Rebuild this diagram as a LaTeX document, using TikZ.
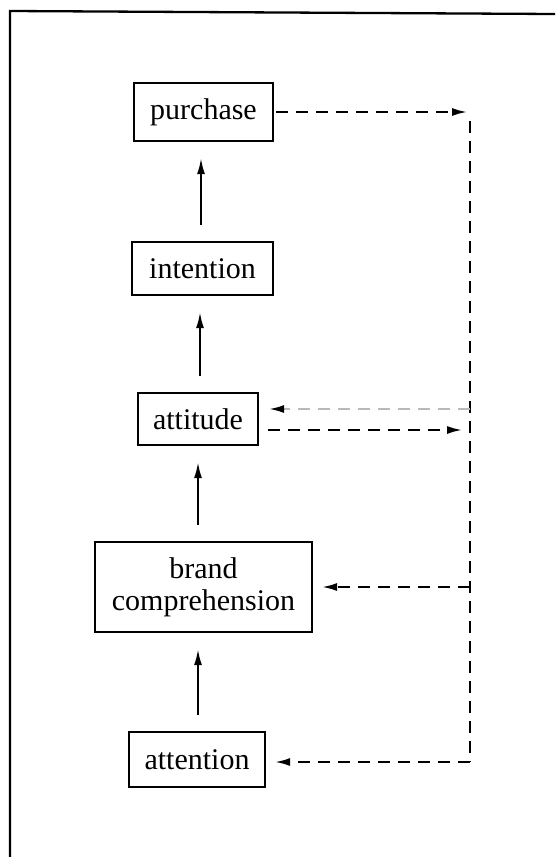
\documentclass[tikz,border=0pt]{standalone}
\usepackage{fontspec}
\setmainfont{Liberation Serif}
\usetikzlibrary{arrows.meta}

\begin{document}
\begin{tikzpicture}[x=1pt,y=-1pt,
  stage/.style={draw,line width=2.3pt,inner sep=0pt,font=\fontsize{30}{33}\selectfont,align=center},
  flow/.style={line width=2pt,-{Latex[length=16pt,width=8pt]},shorten <=16pt,shorten >=16pt},
  busline/.style={line width=2.6pt,dash pattern=on 12pt off 8pt},
  tip/.style={-{Latex[length=16pt,width=8pt]}}
]
\useasboundingbox (0,0) rectangle (555,857);

% outer frame: only the top and left edges are drawn
\draw[line width=2.3pt] (555,14) -- (10,11) -- (10,857);

% stages of the hierarchy
\node[stage,minimum width=139pt,minimum height=58pt] (purchase)  at (203.5,112)   {purchase};
\node[stage,minimum width=141pt,minimum height=53pt] (intention) at (202.5,268.5) {intention};
\node[stage,minimum width=120pt,minimum height=52pt] (attitude)  at (198,419)     {attitude};
\node[stage,minimum width=217pt,minimum height=90pt] (brand)     at (203.5,587)
  {brand\\[-1pt]comprehension};
\node[stage,minimum width=136pt,minimum height=55pt] (attention) at (197,759.5)   {attention};

% columns of the upward arrows
\coordinate (colA) at (201,0);
\coordinate (colB) at (200,0);
\coordinate (colC) at (198,0);

% upward flow between stages
\draw[flow] (intention.north -| colA) -- (purchase.south -| colA);
\draw[flow] (attitude.north -| colB)  -- (intention.south -| colB);
\draw[flow] (brand.north -| colC)     -- (attitude.south -| colC);
\draw[flow] (attention.north -| colC) -- (brand.south -| colC);

% feedback bus on the right
\coordinate (pOut)  at (468,112);
\coordinate (busTop) at (470,121);
\coordinate (busA)  at (470,409);
\coordinate (aOut)  at (463,430);
\coordinate (busB)  at (470,587);
\coordinate (busC)  at (470,762);

\draw[busline,tip] ([xshift=2pt]purchase.east |- pOut) -- (pOut);
\draw[busline] (busTop) -- (busC);
\draw[busline,gray!55,-{Latex[black,length=16pt,width=8pt]}]
  (busA) -- ([xshift=9pt]attitude.east |- busA);
\draw[busline,tip] ([xshift=9pt]attitude.east |- aOut) -- (aOut);
\draw[busline,tip] (busB) -- ([xshift=8pt]brand.east |- busB);
\draw[busline,tip] (busC) -- ([xshift=8pt]attention.east |- busC);
\end{tikzpicture}
\end{document}
